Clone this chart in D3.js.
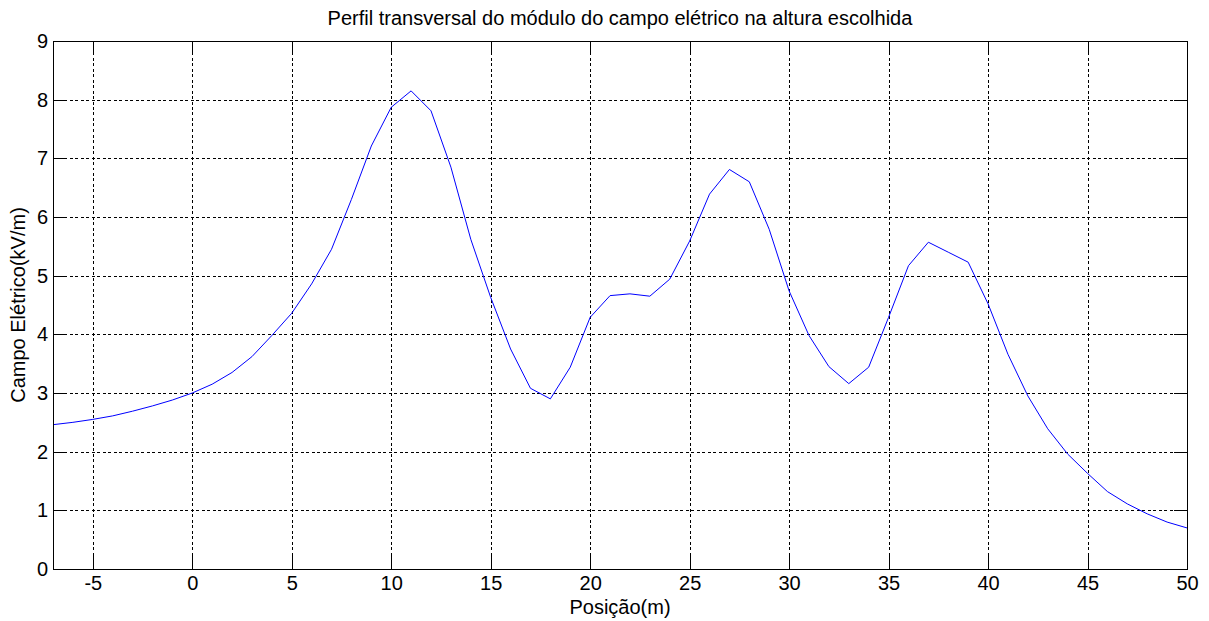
<!DOCTYPE html>
<html>
<head>
<meta charset="utf-8">
<script src="https://cdn.jsdelivr.net/npm/d3@7"></script>
<style>
  body { margin: 0; background: #fff; }
  svg { display: block; font-family: "Liberation Sans", Arial, sans-serif; }
</style>
</head>
<body>
<div id="chart"></div>
<script>
// positions sampled every meter, from -7 to 50
var positions = d3.range(-7, 51);
// field magnitude, kV/m
var campo = [2.46, 2.50, 2.55, 2.61, 2.69, 2.78, 2.88, 3.00, 3.15, 3.35,
             3.62, 3.98, 4.36, 4.86, 5.45, 6.30, 7.21, 7.87, 8.15, 7.81,
             6.85, 5.62, 4.63, 3.75, 3.08, 2.90, 3.44, 4.29, 4.66, 4.69,
             4.65, 4.94, 5.59, 6.39, 6.81, 6.60, 5.79, 4.74, 3.98, 3.45,
             3.16, 3.44, 4.29, 5.17, 5.57, 5.40, 5.23, 4.52, 3.66, 2.95,
             2.39, 1.96, 1.63, 1.32, 1.11, 0.94, 0.80, 0.70];
var xTicks = [-5, 0, 5, 10, 15, 20, 25, 30, 35, 40, 45, 50];
var yTicks = [0, 1, 2, 3, 4, 5, 6, 7, 8, 9];

var titulo = "Perfil transversal do módulo do campo elétrico na altura escolhida";
var rotuloX = "Posição(m)";
var rotuloY = "Campo Elétrico(kV/m)";

var W = 1209, H = 621;
var mLeft = 53, mRight = 1187, mTop = 41, mBottom = 569;
var tickLen = 13;

var svg = d3.select("#chart").append("svg")
    .attr("width", W)
    .attr("height", H);

var x = d3.scaleLinear().domain([-7, 50]).range([mLeft, mRight]);
var y = d3.scaleLinear().domain([0, 9]).range([mBottom, mTop]);

// grid lines (dotted)
var grid = svg.append("g").attr("stroke", "#000").attr("stroke-width", 1)
    .attr("stroke-dasharray", "3,2.5").attr("shape-rendering", "crispEdges");
grid.selectAll(".gx").data(xTicks.filter(function(d) { return d > -7 && d < 50; }))
  .enter().append("line")
    .attr("x1", function(d) { return Math.round(x(d)) + 0.5; })
    .attr("x2", function(d) { return Math.round(x(d)) + 0.5; })
    .attr("y1", mTop).attr("y2", mBottom);
grid.selectAll(".gy").data(yTicks.filter(function(d) { return d > 0 && d < 9; }))
  .enter().append("line")
    .attr("y1", function(d) { return Math.round(y(d)) + 0.5; })
    .attr("y2", function(d) { return Math.round(y(d)) + 0.5; })
    .attr("x1", mLeft).attr("x2", mRight);

// the curve
var line = d3.line()
    .x(function(d, i) { return x(positions[i]); })
    .y(function(d) { return y(d); });

svg.append("path")
    .datum(campo)
    .attr("fill", "none")
    .attr("stroke", "#0000ff")
    .attr("stroke-width", 1)
    .attr("d", line);

// axes, ticks pointing inside
var plain = function(d) { return String(d); };
var xAxisB = d3.axisBottom(x).tickValues(xTicks).tickSizeInner(-tickLen).tickSizeOuter(0).tickPadding(7).tickFormat(plain);
var xAxisT = d3.axisTop(x).tickValues(xTicks).tickSizeInner(-tickLen).tickSizeOuter(0).tickFormat("");
var yAxisL = d3.axisLeft(y).tickValues(yTicks).tickSizeInner(-tickLen).tickSizeOuter(0).tickPadding(5).tickFormat(plain);
var yAxisR = d3.axisRight(y).tickValues(yTicks).tickSizeInner(-tickLen).tickSizeOuter(0).tickFormat("");

function style(g) {
  g.select(".domain").remove();
  g.selectAll(".tick line").attr("stroke", "#000").attr("shape-rendering", "crispEdges");
  g.selectAll(".tick text").attr("fill", "#000").attr("font-size", "20px")
    .attr("font-family", "Liberation Sans, Arial, sans-serif");
}

svg.append("g").attr("transform", "translate(0," + mBottom + ")").call(xAxisB).call(style);
svg.append("g").attr("transform", "translate(0," + mTop + ")").call(xAxisT).call(style);
svg.append("g").attr("transform", "translate(" + mLeft + ",0)").call(yAxisL).call(style);
svg.append("g").attr("transform", "translate(" + mRight + ",0)").call(yAxisR).call(style);

// box
svg.append("rect")
    .attr("x", mLeft + 0.5).attr("y", mTop + 0.5)
    .attr("width", mRight - mLeft).attr("height", mBottom - mTop)
    .attr("fill", "none").attr("stroke", "#000").attr("stroke-width", 1.5)
    .attr("shape-rendering", "crispEdges");

// texts
svg.append("text")
    .attr("x", (mLeft + mRight) / 2).attr("y", 25)
    .attr("text-anchor", "middle").attr("font-size", "20px")
    .text(titulo);

svg.append("text")
    .attr("x", (mLeft + mRight) / 2).attr("y", 614)
    .attr("text-anchor", "middle").attr("font-size", "20px")
    .text(rotuloX);

svg.append("text")
    .attr("transform", "translate(25," + ((mTop + mBottom) / 2) + ") rotate(-90)")
    .attr("text-anchor", "middle").attr("font-size", "20px")
    .text(rotuloY);
</script>
</body>
</html>
